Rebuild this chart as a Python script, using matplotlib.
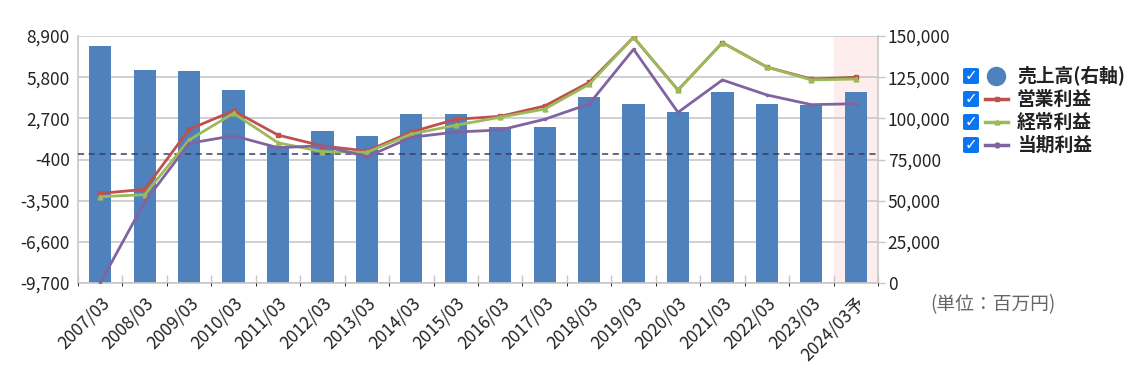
import matplotlib
matplotlib.use("Agg")
import matplotlib.pyplot as plt
from matplotlib.patches import FancyBboxPatch
from matplotlib.lines import Line2D
import numpy as np

plt.rcParams['font.family'] = ['Noto Sans CJK JP', 'DejaVu Sans']

years = ["2007/03", "2008/03", "2009/03", "2010/03", "2011/03", "2012/03",
         "2013/03", "2014/03", "2015/03", "2016/03", "2017/03", "2018/03",
         "2019/03", "2020/03", "2021/03", "2022/03", "2023/03", "2024/03予"]
sales = [144000, 129300, 128500, 117500, 83500, 92300, 89300, 102700, 102700,
         94700, 94800, 113000, 108700, 103800, 116000, 108600, 107800, 116000]
op_profit = [-2950, -2650, 1870, 3270, 1440, 620, 240, 1670, 2630, 2850,
             3630, 5410, 8800, 4830, 8400, 6560, 5660, 5790]
ord_profit = [-3200, -3050, 1070, 3080, 860, 190, 140, 1520, 2180, 2780,
              3400, 5260, 8800, 4830, 8400, 6560, 5590, 5660]
net_profit = [-9700, -3600, 820, 1390, 490, 640, -190, 1270, 1670, 1820,
              2630, 3780, 7900, 3150, 5590, 4460, 3730, 3800]

left_ticks = [-9700, -6600, -3500, -400, 2700, 5800, 8900]
right_ticks = [0, 25000, 50000, 75000, 100000, 125000, 150000]

c_bar = "#4f81bd"
c_red = "#c0504d"
c_green = "#9bbb59"
c_purple = "#8064a2"
c_grid = "#c8c8c8"
c_text = "#222222"
fs = 12.5

fig = plt.figure(figsize=(11.35, 3.78), dpi=100)
ax2 = fig.add_axes([78/1135, 95/378, 800/1135, 247/378])  # bars, right axis
ax = fig.add_axes(ax2.get_position(), sharex=ax2)  # lines, left axis, on top
ax.patch.set_visible(False)

x = np.arange(len(years))

# bars on right axis
ax2.axvspan(len(years) - 1.5, len(years) - 0.5, color="#fdeded", zorder=0)
ax2.bar(x, sales, width=0.5, color=c_bar, zorder=2)
ax2.set_ylim(0, 150000)
ax2.set_yticks(right_ticks)
ax2.set_yticklabels([f"{v:,}" for v in right_ticks])
ax2.yaxis.tick_right()
ax2.grid(axis="y", color=c_grid, linewidth=1.2, zorder=1)
ax2.set_axisbelow(True)
ax2.set_xlim(-0.5, len(years) - 0.5)
ax2.tick_params(axis="y", colors=c_grid, labelcolor=c_text, labelsize=fs,
                length=5, width=1, pad=2)
ax2.set_xticks(np.arange(len(years) + 1) - 0.5, minor=True)
ax2.tick_params(axis="x", which="minor", direction="in", length=6,
                color=c_grid, width=1)
ax2.tick_params(axis="x", which="major", length=0, labelbottom=False)
ax2.spines["top"].set_visible(False)
for s in ["left", "right", "bottom"]:
    ax2.spines[s].set_color(c_grid)
    ax2.spines[s].set_linewidth(1.2)

# lines on left axis
ax.axhline(0, color="#3c3c64", linestyle=(0, (4, 3)), linewidth=1.1, zorder=3)
ax.plot(x, op_profit, color=c_red, linewidth=2, marker="s", markersize=3,
        zorder=4)
ax.plot(x, ord_profit, color=c_green, linewidth=2, marker="^", markersize=3.5,
        zorder=5)
ax.plot(x, net_profit, color=c_purple, linewidth=2, marker="o", markersize=1.5,
        zorder=6)
ax.set_ylim(-9700, 8900)
ax.set_yticks(left_ticks)
ax.set_yticklabels([f"{v:,}" for v in left_ticks])
ax.tick_params(axis="y", length=0, labelsize=fs, labelcolor=c_text, pad=6)
ax.set_xticks(x)
ax.set_xticklabels(years, rotation=45, ha="right", rotation_mode="anchor",
                   fontsize=fs, color=c_text)
ax.tick_params(axis="x", length=0, pad=8)
for s in ax.spines.values():
    s.set_visible(False)

# legend drawn by hand
W, H = 1135, 378
entries = [("売上高(右軸)", "bar", c_bar), ("営業利益", "s", c_red),
           ("経常利益", "^", c_green), ("当期利益", "o", c_purple)]
ys = [76, 99, 122, 145]
for (label, kind, col), yy in zip(entries, ys):
    fy = 1 - yy / H
    box = FancyBboxPatch((963 / W, fy - 8 / H), 16 / W, 16 / H,
                         boxstyle="round,pad=0,rounding_size=0.003",
                         transform=fig.transFigure, facecolor="#0b74f0",
                         edgecolor="none")
    fig.patches.append(box)
    fig.text(971 / W, fy, "✓", color="white", fontsize=11, weight="bold",
             ha="center", va="center", family="DejaVu Sans")
    if kind == "bar":
        fig.lines.append(Line2D([996 / W], [fy], marker="o", markersize=13,
                                color=col, transform=fig.transFigure))
    else:
        fig.lines.append(Line2D([985 / W, 1008 / W], [fy, fy], color=col,
                                linewidth=2.5, transform=fig.transFigure))
        fig.lines.append(Line2D([996.5 / W], [fy], color=col, marker=kind,
                                markersize=3.5, transform=fig.transFigure))
    fig.text(1017 / W, fy, label, fontsize=13.5, weight="bold", color=c_text,
             ha="left", va="center")

fig.text(993 / W, 1 - 305 / H, "(単位：百万円)", fontsize=13.5, color="#666666",
         ha="center", va="center")

fig.savefig("out.png", dpi=100)
